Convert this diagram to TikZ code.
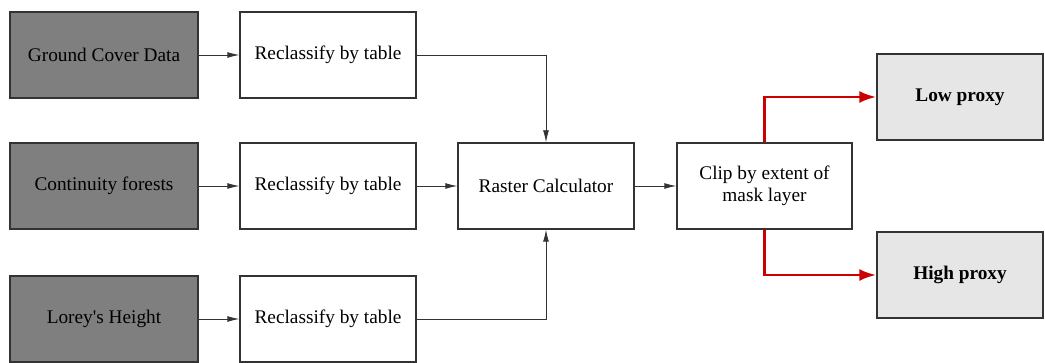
\documentclass[tikz,border=0pt]{standalone}
\usepackage{fontspec}
\setmainfont{Liberation Serif}
\usetikzlibrary{arrows.meta}
\definecolor{darkbox}{HTML}{7F7F7F}
\definecolor{lightbox}{HTML}{E6E6E6}
\definecolor{redline}{HTML}{CC0000}
\definecolor{edge}{HTML}{333333}
\begin{document}
\begin{tikzpicture}[x=1pt,y=-1pt,
  box/.style={draw=edge,line width=1.4pt,minimum height=86pt,inner sep=2pt,align=center,font=\fontsize{19.3}{22}\selectfont},
  srcbox/.style={box,fill=darkbox,minimum width=188pt},
  procbox/.style={box,fill=white,minimum width=176pt},
  outbox/.style={box,fill=lightbox,minimum width=166pt,font=\fontsize{19.3}{22}\selectfont\bfseries},
  arr/.style={draw=edge,line width=0.9pt,-{Latex[length=12pt,width=6pt]}},
  redarr/.style={draw=redline,line width=2.8pt,-{Latex[length=17pt,width=12pt]}}]
\useasboundingbox (0,0) rectangle (1045,363);
\node[srcbox] (gc) at (104,55) {Ground Cover Data};
\node[srcbox] (cf) at (104,186) {Continuity forests};
\node[srcbox] (lh) at (104,319) {Lorey\textquotesingle s Height};
\node[procbox] (r1) at (328,55) {Reclassify by table};
\node[procbox] (r2) at (328,186) {Reclassify by table};
\node[procbox] (r3) at (328,319) {Reclassify by table};
\node[procbox] (rc) at (546,186) {Raster Calculator};
\node[box,fill=white,minimum width=175pt] (cl) at (764.5,186) {Clip by extent of\\mask layer};
\node[outbox] (lo) at (960,97) {Low proxy};
\node[outbox] (hi) at (960,275) {High proxy};
\draw[arr] (gc) -- (r1);
\draw[arr] (cf) -- (r2);
\draw[arr] (lh) -- (r3);
\draw[arr] (r2) -- (rc);
\draw[arr] (rc) -- (cl);
\draw[arr] (r1.east) -| (rc.north);
\draw[arr] (r3.east) -| (rc.south);
\draw[redarr] (cl.north) |- (lo.west);
\draw[redarr] (cl.south) |- (hi.west);
\end{tikzpicture}
\end{document}
